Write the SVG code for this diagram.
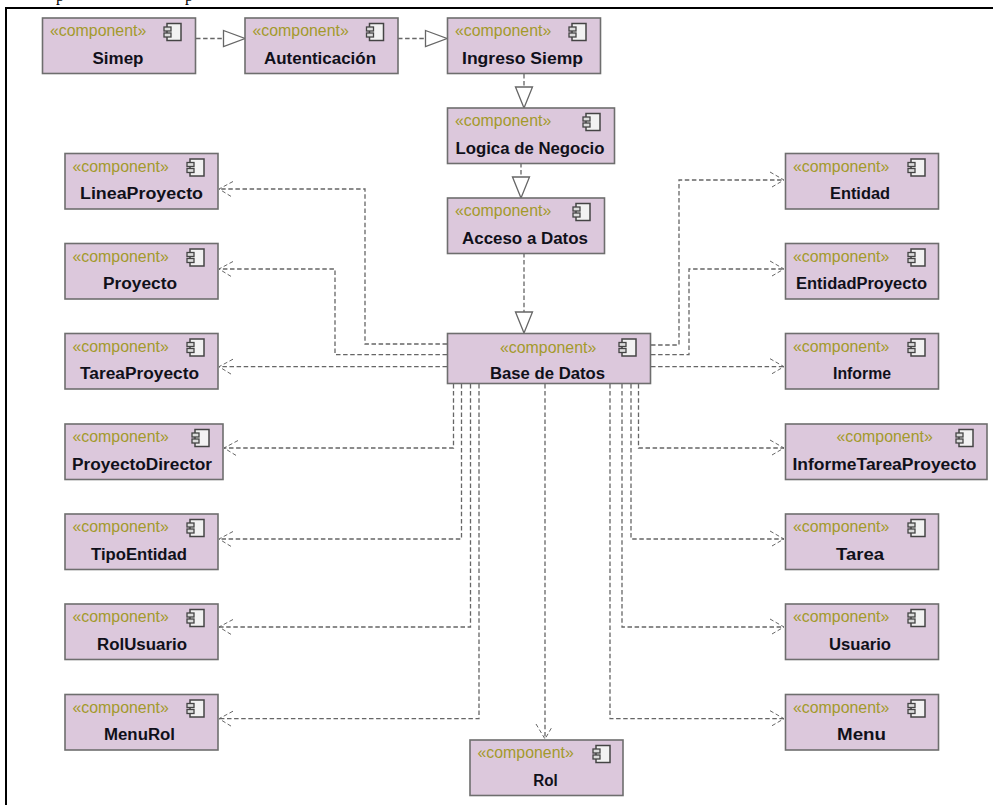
<svg xmlns="http://www.w3.org/2000/svg" xmlns:xlink="http://www.w3.org/1999/xlink" width="993" height="805" viewBox="0 0 993 805">
<style>
.box{fill:#dcc8dc;stroke:#6e6e6e;stroke-width:1.6}
.st{font-family:"Liberation Sans",Arial,sans-serif;font-size:15.9px;fill:#a39a2c}
.nm{font-family:"Liberation Sans",Arial,sans-serif;font-size:16.8px;font-weight:bold;fill:#10101a;text-anchor:middle}
.ln{fill:none;stroke:#666;stroke-width:1.3;stroke-dasharray:4.5 2.6}
.hd{fill:#fff;stroke:#666;stroke-width:1.3}
.op{fill:none;stroke:#666;stroke-width:1;stroke-dasharray:4 2.5}
.fr{fill:none;stroke:#000;stroke-width:2}
.pp{font-family:"Liberation Serif","Times New Roman",serif;font-size:16px;fill:#000}
</style>
<defs>
<g id="ic">
<rect x="3" y="0" width="14" height="17" fill="#f2f2f2" stroke="#444" stroke-width="1.5"/>
<rect x="0" y="3.5" width="7" height="4" fill="#dcdcdc" stroke="#444" stroke-width="1.3"/>
<rect x="0" y="9.5" width="7" height="4" fill="#dcdcdc" stroke="#444" stroke-width="1.3"/>
</g>
</defs>
<rect width="993" height="805" fill="#fff"/>
<path class="fr" d="M6 805V8H993"/>
<text class="pp" x="56" y="1">p</text>
<text class="pp" x="185" y="1">p</text>

<g id="connectors">
<path class="ln" d="M196 38.500H223M398 38.500H425M524 74V87M521 163V177M524 253V312"/>
<path class="hd" d="M223.500 30.500L245 38.500L223.500 46.500ZM425.500 30.500L447 38.500L425.500 46.500ZM515.500 87L524 108L532.500 87ZM512.500 177L521 198L529.500 177ZM515.500 312L524 333L532.500 312Z"/>
<path class="ln" d="M447 344H365V189H219"/>
<path class="ln" d="M447 354.700H335V269H219"/>
<path class="ln" d="M447 366.700H219"/>
<path class="ln" d="M651 345H679V180H784"/>
<path class="ln" d="M651 354.700H689V269H784"/>
<path class="ln" d="M651 366.700H784"/>
<path class="ln" d="M453.500 384V448H224"/>
<path class="ln" d="M461.500 384V539H219"/>
<path class="ln" d="M470.500 384V627H219"/>
<path class="ln" d="M479 384V718.700H219"/>
<path class="ln" d="M638.500 384V448H784"/>
<path class="ln" d="M631 384V539H784"/>
<path class="ln" d="M622 384V627H784"/>
<path class="ln" d="M610 384V718.700H784"/>
<path class="ln" d="M545 384V739"/>
<path class="op" d="M233 181.500L219 189L232 197M233 261.500L219 269L232 277M233 359.200L219 366.700L232 374.700M238 440.500L224 448L237 456M233 531.500L219 539L232 547M233 619.500L219 627L232 635M233 711.200L219 718.700L232 726.700"/>
<path class="op" d="M770 172L784 180L772 187M770 261L784 269L772 276M770 358.700L784 366.700L772 373.700M770 440L784 448L772 455M770 531L784 539L772 546M770 619L784 627L772 634M770 710.700L784 718.700L772 725.700"/>
<path class="op" d="M536 724L545 739L552 727"/>
</g>

<g id="simep"><rect class="box" x="42.500" y="18" width="153" height="55.500"/><text class="st" x="50" y="36">«component»</text><use xlink:href="#ic" href="#ic" x="164" y="23.500"/><text class="nm" x="118" y="63.500" textLength="51" lengthAdjust="spacingAndGlyphs">Simep</text></g>
<g id="autenticacion"><rect class="box" x="245" y="18" width="153" height="55.500"/><text class="st" x="252.500" y="36">«component»</text><use xlink:href="#ic" href="#ic" x="366.500" y="23.500"/><text class="nm" x="320" y="63.500" textLength="112" lengthAdjust="spacingAndGlyphs">Autenticación</text></g>
<g id="ingreso"><rect class="box" x="447.500" y="18" width="153" height="55.500"/><text class="st" x="455" y="36">«component»</text><use xlink:href="#ic" href="#ic" x="569" y="23.500"/><text class="nm" x="522.500" y="63.500" textLength="121" lengthAdjust="spacingAndGlyphs">Ingreso Siemp</text></g>
<g id="logica"><rect class="box" x="447.500" y="108" width="167" height="55.500"/><text class="st" x="455" y="126">«component»</text><use xlink:href="#ic" href="#ic" x="583" y="113.500"/><text class="nm" x="530" y="153.500" textLength="149" lengthAdjust="spacingAndGlyphs">Logica de Negocio</text></g>
<g id="acceso"><rect class="box" x="447.500" y="198" width="157" height="55.500"/><text class="st" x="455" y="216">«component»</text><use xlink:href="#ic" href="#ic" x="573" y="203.500"/><text class="nm" x="525" y="243.500" textLength="126" lengthAdjust="spacingAndGlyphs">Acceso a Datos</text></g>
<g id="base"><rect class="box" x="447.500" y="333.500" width="203" height="50"/><text class="st" x="500" y="353">«component»</text><use xlink:href="#ic" href="#ic" x="619" y="339"/><text class="nm" x="547.500" y="379" textLength="115" lengthAdjust="spacingAndGlyphs">Base de Datos</text></g>

<g id="lineaproyecto"><rect class="box" x="65" y="153.500" width="153" height="55.500"/><text class="st" x="72.500" y="171.500">«component»</text><use xlink:href="#ic" href="#ic" x="187" y="159"/><text class="nm" x="141.500" y="199" textLength="123" lengthAdjust="spacingAndGlyphs">LineaProyecto</text></g>
<g id="proyecto"><rect class="box" x="65" y="243.500" width="153" height="55.500"/><text class="st" x="72.500" y="261.500">«component»</text><use xlink:href="#ic" href="#ic" x="187" y="249"/><text class="nm" x="140" y="289" textLength="74" lengthAdjust="spacingAndGlyphs">Proyecto</text></g>
<g id="tareaproyecto"><rect class="box" x="65" y="333.500" width="153" height="55.500"/><text class="st" x="72.500" y="351.500">«component»</text><use xlink:href="#ic" href="#ic" x="187" y="339"/><text class="nm" x="139.500" y="379" textLength="119" lengthAdjust="spacingAndGlyphs">TareaProyecto</text></g>
<g id="proyectodirector"><rect class="box" x="65" y="424" width="158" height="55.500"/><text class="st" x="72.500" y="442">«component»</text><use xlink:href="#ic" href="#ic" x="192" y="429.500"/><text class="nm" x="142" y="469.500" textLength="140" lengthAdjust="spacingAndGlyphs">ProyectoDirector</text></g>
<g id="tipoentidad"><rect class="box" x="65" y="514" width="153" height="55.500"/><text class="st" x="72.500" y="532">«component»</text><use xlink:href="#ic" href="#ic" x="187" y="519.500"/><text class="nm" x="139" y="559.500" textLength="96" lengthAdjust="spacingAndGlyphs">TipoEntidad</text></g>
<g id="rolusuario"><rect class="box" x="65" y="604" width="153" height="55.500"/><text class="st" x="72.500" y="622">«component»</text><use xlink:href="#ic" href="#ic" x="187" y="609.500"/><text class="nm" x="142" y="649.500" textLength="90" lengthAdjust="spacingAndGlyphs">RolUsuario</text></g>
<g id="menurol"><rect class="box" x="65" y="694.500" width="153" height="55.500"/><text class="st" x="72.500" y="712.500">«component»</text><use xlink:href="#ic" href="#ic" x="187" y="700"/><text class="nm" x="139.500" y="740" textLength="71" lengthAdjust="spacingAndGlyphs">MenuRol</text></g>

<g id="entidad"><rect class="box" x="785.500" y="153.500" width="153" height="55.500"/><text class="st" x="793" y="171.500">«component»</text><use xlink:href="#ic" href="#ic" x="908" y="159"/><text class="nm" x="860" y="199" textLength="60" lengthAdjust="spacingAndGlyphs">Entidad</text></g>
<g id="entidadproyecto"><rect class="box" x="785.500" y="243.500" width="153" height="55.500"/><text class="st" x="793" y="261.500">«component»</text><use xlink:href="#ic" href="#ic" x="908" y="249"/><text class="nm" x="861.500" y="289" textLength="131" lengthAdjust="spacingAndGlyphs">EntidadProyecto</text></g>
<g id="informe"><rect class="box" x="785.500" y="333.500" width="153" height="55.500"/><text class="st" x="793" y="351.500">«component»</text><use xlink:href="#ic" href="#ic" x="908" y="339"/><text class="nm" x="862" y="379" textLength="58" lengthAdjust="spacingAndGlyphs">Informe</text></g>
<g id="informetareaproyecto"><rect class="box" x="785.500" y="424" width="201.500" height="55.500"/><text class="st" x="836.500" y="442">«component»</text><use xlink:href="#ic" href="#ic" x="956" y="429.500"/><text class="nm" x="884.500" y="469.500" textLength="184" lengthAdjust="spacingAndGlyphs">InformeTareaProyecto</text></g>
<g id="tarea"><rect class="box" x="785.500" y="514" width="153" height="55.500"/><text class="st" x="793" y="532">«component»</text><use xlink:href="#ic" href="#ic" x="908" y="519.500"/><text class="nm" x="860" y="559.500" textLength="48" lengthAdjust="spacingAndGlyphs">Tarea</text></g>
<g id="usuario"><rect class="box" x="785.500" y="604" width="153" height="55.500"/><text class="st" x="793" y="622">«component»</text><use xlink:href="#ic" href="#ic" x="908" y="609.500"/><text class="nm" x="860" y="649.500" textLength="62" lengthAdjust="spacingAndGlyphs">Usuario</text></g>
<g id="menu"><rect class="box" x="785.500" y="694.500" width="153" height="55.500"/><text class="st" x="793" y="712.500">«component»</text><use xlink:href="#ic" href="#ic" x="908" y="700"/><text class="nm" x="861.500" y="740" textLength="49" lengthAdjust="spacingAndGlyphs">Menu</text></g>
<g id="rol"><rect class="box" x="470" y="740" width="153" height="55.500"/><text class="st" x="477.500" y="758">«component»</text><use xlink:href="#ic" href="#ic" x="593" y="745.500"/><text class="nm" x="545.500" y="785.500" textLength="24.500" lengthAdjust="spacingAndGlyphs">Rol</text></g>
</svg>
